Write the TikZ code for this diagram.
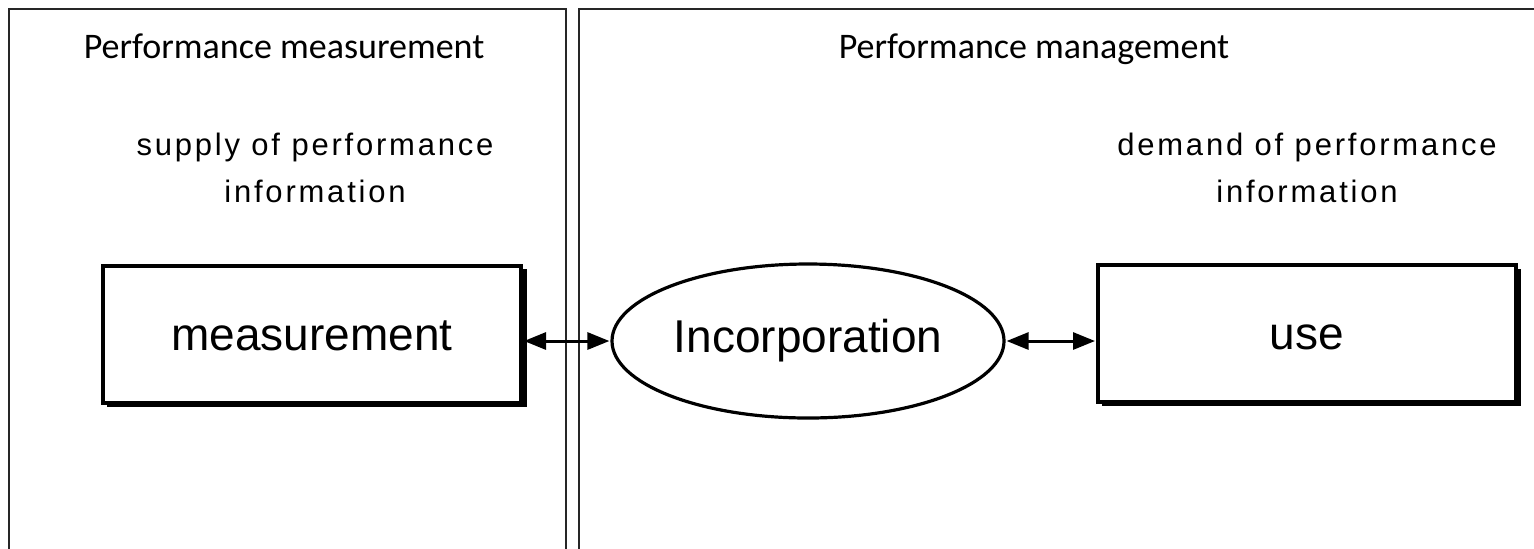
\documentclass[tikz,border=0pt]{standalone}
\usepackage{fontspec}
\setmainfont{Liberation Sans}
\newfontfamily\titlefont{Carlito}
\newfontfamily\spacedfont[LetterSpace=9]{Liberation Sans}
\usetikzlibrary{arrows.meta,shapes.geometric}

\tikzset{
  panel/.style={line width=1pt, draw=black!85},
  paneltitle/.style={font=\titlefont\fontsize{18}{21}\selectfont, inner sep=0pt, anchor=base},
  rolelabel/.style={font=\spacedfont\fontsize{15.5}{23.5}\selectfont, align=center, inner sep=0pt},
  stagebox/.style={draw, line width=2pt, fill=white, minimum width=209pt, minimum height=68.5pt,
    inner sep=0pt, text height=16.5pt, text depth=0pt, font=\fontsize{23}{27}\selectfont},
  boxshadow/.style={fill=black},
  stageoval/.style={ellipse, draw, line width=1.6pt, minimum width=196pt, minimum height=77pt,
    inner sep=0pt, font=\fontsize{23}{27}\selectfont},
  link/.style={line width=1.5pt, {Triangle[length=11pt,width=8.5pt]}-{Triangle[length=11pt,width=8.5pt]}, shorten <=0.5pt, shorten >=0.5pt}
}

\begin{document}
\begin{tikzpicture}[x=0.5pt, y=-0.5pt]
  \useasboundingbox (0,0) rectangle (1534,548);

  % two panels, open at the bottom (and on the right for the second one)
  \draw[panel] (9,560) -- (9,9) -- (566,9) -- (566,560);
  \draw[panel] (579,560) -- (579,9) -- (1545,9);

  \node[paneltitle] (t1) at (284,58) {Performance measurement};
  \node[paneltitle] (t2) at (1034,58) {Performance management};

  \node[rolelabel] (supply) at (315,168) {supply of performance\\information};
  \node[rolelabel] (demand) at (1307,168) {demand of performance\\information};

  % boxes with a solid drop shadow on the right and bottom
  \fill[boxshadow] (107,269) rectangle (527,407);
  \node[stagebox] (meas) at (312,334) {measurement};
  \fill[boxshadow] (1102,269) rectangle (1521,406);
  \node[stagebox] (use) at (1307,333) {use};

  \node[stageoval] (inc) at (808,341) {Incorporation};

  \draw[link] (meas.east |- inc.west) -- (inc.west);
  \draw[link] (inc.east) -- (use.west |- inc.east);
\end{tikzpicture}
\end{document}
